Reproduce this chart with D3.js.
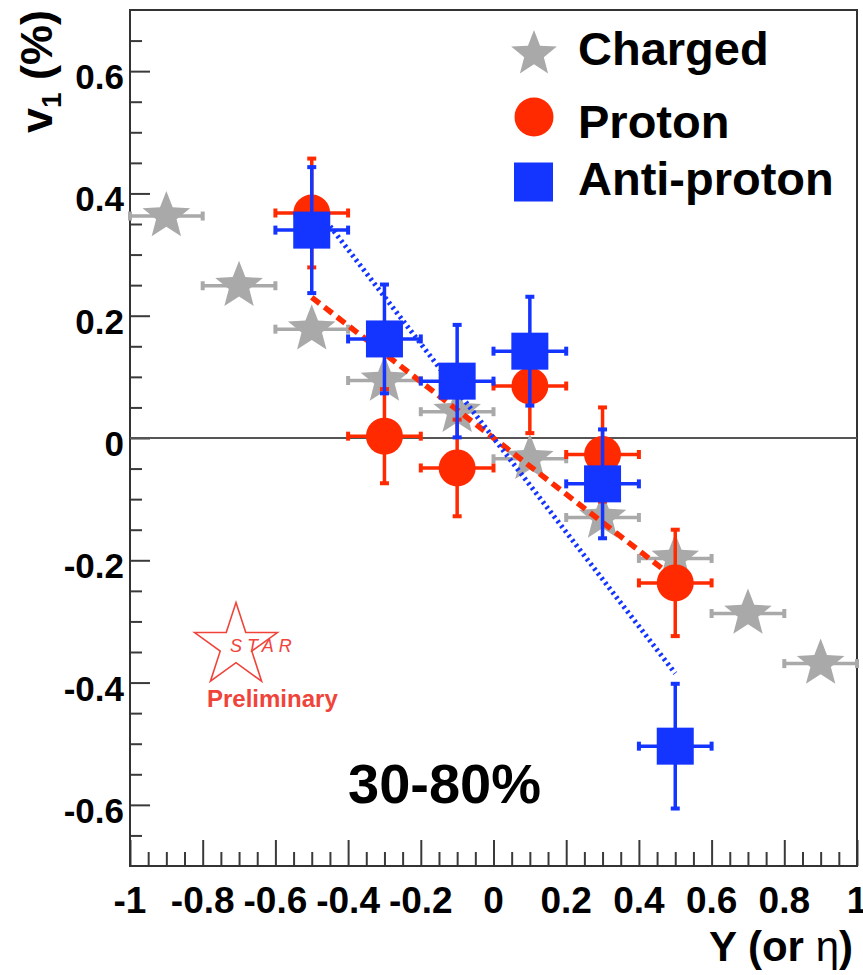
<!DOCTYPE html>
<html>
<head>
<meta charset="utf-8">
<script src="https://cdn.jsdelivr.net/npm/d3@7"></script>
<style>
  body { margin: 0; background: #fff; }
  svg { display: block; }
  text { font-family: "Liberation Sans", Arial, Helvetica, sans-serif; }
</style>
</head>
<body>
<svg id="chart" width="863" height="975"></svg>
<script>
// Directed flow v1 vs rapidity, 30-80% centrality
const chargedEta = [-0.9, -0.7, -0.5, -0.3, -0.1, 0.1, 0.3, 0.5, 0.7, 0.9];
const chargedV1 = [0.363, 0.249, 0.178, 0.094, 0.043, -0.034, -0.130, -0.197, -0.287, -0.369];

const protonY = [-0.5, -0.3, -0.1, 0.1, 0.3, 0.5];
const protonV1 = [0.368, 0.003, -0.049, 0.085, -0.027, -0.237];
const protonErr = [0.089, 0.077, 0.079, 0.077, 0.077, 0.087];

const antiprotonY = [-0.5, -0.3, -0.1, 0.1, 0.3, 0.5];
const antiprotonV1 = [0.340, 0.162, 0.093, 0.142, -0.075, -0.504];
const antiprotonErr = [0.103, 0.089, 0.092, 0.089, 0.089, 0.102];

const binHalfWidth = 0.1;

// Linear fits over |Y| < 0.5
const protonFitY = [-0.5, 0.5];
const protonFitV1 = [0.23, -0.23];
const antiprotonFitY = [-0.5, 0.5];
const antiprotonFitV1 = [0.385, -0.385];

const xTickLabels = ["-1", "-0.8", "-0.6", "-0.4", "-0.2", "0", "0.2", "0.4", "0.6", "0.8", "1"];
const yTickLabels = ["-0.6", "-0.4", "-0.2", "0", "0.2", "0.4", "0.6"];

const GRAY = "#a9a9a9", RED = "#ff2a00", BLUE = "#1434ff", LOGO = "#f0443a";

const svg = d3.select("#chart");
const plotLeft = 130, plotRight = 857, plotTop = 10, plotBottom = 866;

const x = d3.scaleLinear().domain([-1, 1]).range([plotLeft, plotRight]);
const y = d3.scaleLinear().domain([-0.7, 0.7]).range([plotBottom, plotTop]);

function starPath(cx, cy, R, ratio) {
  const pts = [];
  for (let k = 0; k < 10; k++) {
    const a = -Math.PI / 2 + k * Math.PI / 5;
    const r = k % 2 === 0 ? R : R * ratio;
    pts.push([cx + r * Math.cos(a), cy + r * Math.sin(a)]);
  }
  return "M" + pts.map(p => p.join(",")).join("L") + "Z";
}

// Axes with major and minor ticks
const xMajor = d3.range(-1, 1.0001, 0.2);
const xMinor = d3.range(-1, 1.0001, 0.05).filter(v => !xMajor.some(m => Math.abs(m - v) < 1e-6));
const yMajor = d3.range(-0.6, 0.6001, 0.2);
const yMinor = d3.range(-0.65, 0.6501, 0.05).filter(v => !yMajor.some(m => Math.abs(m - v) < 1e-6));

const xAxisMajor = d3.axisBottom(x).tickValues(xMajor).tickSize(-26).tickFormat("");
const xAxisMinor = d3.axisBottom(x).tickValues(xMinor).tickSize(-14).tickFormat("");
const yAxisMajor = d3.axisLeft(y).tickValues(yMajor).tickSize(-20).tickFormat("");
const yAxisMinor = d3.axisLeft(y).tickValues(yMinor).tickSize(-12).tickFormat("");

function styleAxis(g) {
  g.select(".domain").remove();
  g.selectAll("line").attr("stroke", "#3a3a3a").attr("stroke-width", 2);
}
svg.append("g").attr("transform", `translate(0,${plotBottom})`).call(xAxisMajor).call(styleAxis);
svg.append("g").attr("transform", `translate(0,${plotBottom})`).call(xAxisMinor).call(styleAxis);
svg.append("g").attr("transform", `translate(${plotLeft},0)`).call(yAxisMajor).call(styleAxis);
svg.append("g").attr("transform", `translate(${plotLeft},0)`).call(yAxisMinor).call(styleAxis);

// Frame
svg.append("rect")
  .attr("x", plotLeft).attr("y", plotTop)
  .attr("width", plotRight - plotLeft).attr("height", plotBottom - plotTop)
  .attr("fill", "none").attr("stroke", "#333").attr("stroke-width", 2);

// Tick labels
svg.append("g").selectAll("text").data(xMajor).join("text")
  .attr("x", d => x(d)).attr("y", 913)
  .attr("text-anchor", "middle")
  .attr("font-size", 37).attr("font-weight", "bold").attr("fill", "#000")
  .text((d, i) => xTickLabels[i]);

svg.append("g").selectAll("text").data(yMajor).join("text")
  .attr("x", 124).attr("y", d => y(d) + 18)
  .attr("text-anchor", "end")
  .attr("font-size", 35).attr("font-weight", "bold").attr("fill", "#000")
  .text((d, i) => yTickLabels[i]);

// Axis titles
const xTitle = svg.append("text")
  .attr("x", 853).attr("y", 961)
  .attr("text-anchor", "end")
  .attr("font-size", 42).attr("font-weight", "bold").attr("fill", "#000");
xTitle.append("tspan").text("Y (or ");
xTitle.append("tspan").attr("font-weight", "normal").text("η");
xTitle.append("tspan").text(")");

const yTitle = svg.append("text")
  .attr("transform", "translate(52,10) rotate(-90)")
  .attr("text-anchor", "end")
  .attr("font-size", 45).attr("font-weight", "bold").attr("fill", "#000");
yTitle.append("tspan").text("v");
yTitle.append("tspan").attr("font-size", 28).attr("dy", 9).text("1");
yTitle.append("tspan").attr("dy", -9).text(" (%)");

// Zero line
svg.append("line")
  .attr("x1", plotLeft).attr("x2", plotRight)
  .attr("y1", y(0)).attr("y2", y(0))
  .attr("stroke", "#555").attr("stroke-width", 2);

// Error bars helper
function errorBars(g, data, color, withY) {
  const cap = 4.5;
  data.forEach(d => {
    const cx = x(d.x), cy = y(d.y);
    const xl = x(d.x - binHalfWidth), xr = x(d.x + binHalfWidth);
    g.append("line").attr("x1", xl).attr("x2", xr).attr("y1", cy).attr("y2", cy)
      .attr("stroke", color).attr("stroke-width", 3.5);
    [xl, xr].forEach(xe => g.append("line")
      .attr("x1", xe).attr("x2", xe).attr("y1", cy - cap).attr("y2", cy + cap)
      .attr("stroke", color).attr("stroke-width", 4));
    if (withY) {
      const yt = y(d.y + d.e), yb = y(d.y - d.e);
      g.append("line").attr("x1", cx).attr("x2", cx).attr("y1", yt).attr("y2", yb)
        .attr("stroke", color).attr("stroke-width", 3.5);
      [yt, yb].forEach(ye => g.append("line")
        .attr("x1", cx - cap).attr("x2", cx + cap).attr("y1", ye).attr("y2", ye)
        .attr("stroke", color).attr("stroke-width", 4));
    }
  });
}

const charged = chargedEta.map((v, i) => ({ x: v, y: chargedV1[i] }));
const protons = protonY.map((v, i) => ({ x: v, y: protonV1[i], e: protonErr[i] }));
const antiprotons = antiprotonY.map((v, i) => ({ x: v, y: antiprotonV1[i], e: antiprotonErr[i] }));

// Charged hadrons
const gCh = svg.append("g");
errorBars(gCh, charged, GRAY, false);
gCh.selectAll("path").data(charged).join("path")
  .attr("d", d => starPath(x(d.x), y(d.y), 25, 0.43))
  .attr("fill", GRAY);

// Fit lines
const line = d3.line().x(d => x(d[0])).y(d => y(d[1]));
svg.append("path")
  .attr("d", line(protonFitY.map((v, i) => [v, protonFitV1[i]])))
  .attr("fill", "none").attr("stroke", RED).attr("stroke-width", 5.5)
  .attr("stroke-dasharray", "10,6");
svg.append("path")
  .attr("d", line(antiprotonFitY.map((v, i) => [v, antiprotonFitV1[i]])))
  .attr("fill", "none").attr("stroke", BLUE).attr("stroke-width", 5)
  .attr("stroke-dasharray", "2.5,3.5");

// Protons
const gP = svg.append("g");
errorBars(gP, protons, RED, true);
gP.selectAll("circle").data(protons).join("circle")
  .attr("cx", d => x(d.x)).attr("cy", d => y(d.y)).attr("r", 18.5)
  .attr("fill", RED);

// Anti-protons
const gA = svg.append("g");
errorBars(gA, antiprotons, BLUE, true);
gA.selectAll("rect.m").data(antiprotons).join("rect")
  .attr("class", "m")
  .attr("x", d => x(d.x) - 18.5).attr("y", d => y(d.y) - 18.5)
  .attr("width", 37).attr("height", 37)
  .attr("fill", BLUE);

// Legend
const legend = svg.append("g");
legend.append("path").attr("d", starPath(534, 54, 24, 0.43)).attr("fill", GRAY);
legend.append("circle").attr("cx", 534).attr("cy", 117).attr("r", 19.5).attr("fill", RED);
legend.append("rect").attr("x", 514).attr("y", 162.5).attr("width", 39).attr("height", 39).attr("fill", BLUE);
[["Charged", 65], ["Proton", 138], ["Anti-proton", 195]].forEach(([t, by]) =>
  legend.append("text").attr("x", 578).attr("y", by)
    .attr("font-size", 47).attr("font-weight", "bold").attr("fill", "#000").text(t));

// Centrality label
svg.append("text").attr("x", 348).attr("y", 803)
  .attr("font-size", 56).attr("font-weight", "bold").attr("fill", "#000")
  .text("30-80%");

// STAR Preliminary logo
svg.append("path").attr("d", starPath(236, 646, 43.5, 0.382))
  .attr("fill", "none").attr("stroke", LOGO).attr("stroke-width", 1.6)
  .attr("stroke-linejoin", "miter");
svg.append("text").attr("x", 230).attr("y", 652)
  .attr("font-size", 18).attr("font-style", "italic").attr("letter-spacing", 5)
  .attr("fill", LOGO).text("STAR");
svg.append("text").attr("x", 207).attr("y", 707)
  .attr("font-size", 24).attr("font-weight", "bold")
  .attr("fill", LOGO).text("Preliminary");
</script>
</body>
</html>
